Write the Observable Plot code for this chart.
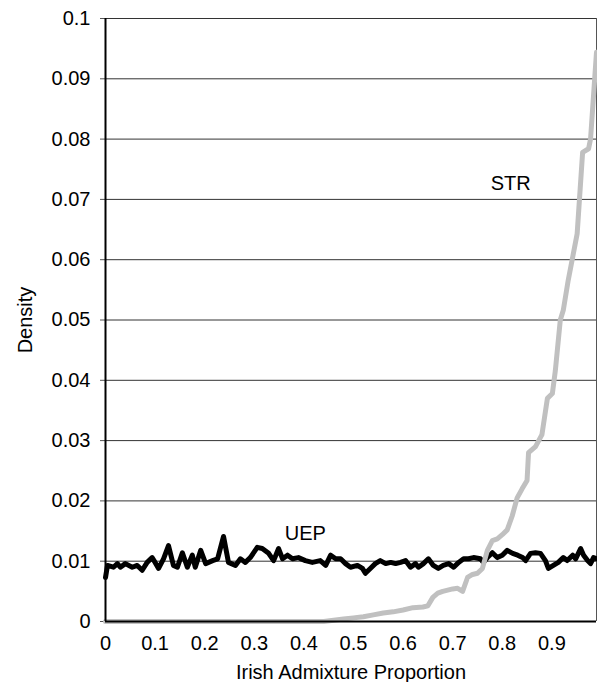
<!DOCTYPE html>
<html>
<head>
<meta charset="utf-8">
<script src="https://cdn.jsdelivr.net/npm/d3@7"></script>
<script src="https://cdn.jsdelivr.net/npm/@observablehq/plot@0.6"></script>
<style>
  html, body { margin: 0; padding: 0; background: #fff; }
  #chart svg { display: block; }
  #chart svg text { font-size: 20px; font-family: 'Liberation Sans', Arial, Helvetica, sans-serif; }
</style>
</head>
<body>
<div id="chart"></div>
<script>
// Tick labels
const xTicks = [0, 0.1, 0.2, 0.3, 0.4, 0.5, 0.6, 0.7, 0.8, 0.9];
const yTicks = [0, 0.01, 0.02, 0.03, 0.04, 0.05, 0.06, 0.07, 0.08, 0.09, 0.1];

// UEP series (black)
const uepX = [0.0,0.004,0.016,0.024,0.03,0.04,0.054,0.064,0.074,0.084,
  0.094,0.1,0.107,0.117,0.127,0.137,0.145,0.155,0.165,0.175,
  0.181,0.192,0.202,0.216,0.226,0.238,0.248,0.262,0.272,0.282,
  0.292,0.306,0.316,0.329,0.339,0.349,0.357,0.367,0.377,0.389,
  0.403,0.417,0.433,0.444,0.454,0.464,0.474,0.484,0.494,0.508,
  0.518,0.524,0.534,0.544,0.554,0.565,0.575,0.585,0.595,0.605,
  0.615,0.625,0.631,0.641,0.651,0.661,0.671,0.681,0.692,0.702,
  0.712,0.722,0.732,0.742,0.756,0.762,0.770,0.780,0.790,0.800,
  0.810,0.821,0.831,0.841,0.847,0.857,0.867,0.877,0.887,0.893,
  0.903,0.913,0.923,0.931,0.942,0.948,0.958,0.964,0.972,0.978,
  0.984,0.99];
const uepY = [0.0073,0.0093,0.009,0.0096,0.009,0.0096,0.009,0.0093,0.0085,0.0098,
  0.0106,0.0098,0.0088,0.0104,0.0126,0.0093,0.009,0.0114,0.009,0.011,
  0.009,0.0118,0.0096,0.0101,0.0104,0.0141,0.0098,0.0093,0.0104,0.0098,
  0.0106,0.0123,0.0121,0.0113,0.0101,0.0121,0.0104,0.011,0.0104,0.0106,
  0.0101,0.0098,0.0101,0.0093,0.011,0.0104,0.0104,0.0096,0.009,0.0093,
  0.0088,0.008,0.0088,0.0096,0.0101,0.0096,0.0098,0.0096,0.0098,0.0101,
  0.009,0.0096,0.009,0.0096,0.0104,0.0093,0.0088,0.0093,0.0096,0.009,
  0.0098,0.0104,0.0104,0.0106,0.0104,0.0098,0.0106,0.0114,0.0106,0.011,
  0.0118,0.0113,0.011,0.0106,0.0101,0.0113,0.0114,0.0113,0.0101,0.0088,
  0.0093,0.0098,0.0106,0.0101,0.011,0.0104,0.0121,0.011,0.0101,0.0096,
  0.0106,0.0104];

// STR series (grey)
const strX = [0,0.44,0.46,0.48,0.50,0.52,0.54,0.56,0.58,0.60,
  0.62,0.64,0.65,0.66,0.67,0.68,0.70,0.71,0.72,0.73,
  0.74,0.75,0.76,0.77,0.78,0.79,0.80,0.81,0.82,0.83,
  0.84,0.85,0.853,0.867,0.88,0.891,0.901,0.907,0.917,0.923,
  0.933,0.951,0.962,0.974,0.978,0.99];
const strY = [0,0,0.0002,0.0004,0.0006,0.0008,0.0011,0.0014,0.0016,0.0019,
  0.0023,0.0024,0.0026,0.004,0.0047,0.005,0.0054,0.0055,0.005,0.0073,
  0.0078,0.008,0.0088,0.0118,0.0134,0.0137,0.0144,0.0152,0.0175,0.0205,
  0.022,0.0234,0.028,0.029,0.031,0.037,0.0378,0.0416,0.050,0.0516,
  0.0566,0.0643,0.0778,0.0784,0.080,0.0944];

// Series labels
const seriesNames = ["UEP", "STR"];
const labelX = [0.403, 0.817];
const labelY = [0.0146, 0.0726];

const uep = uepX.map((x, i) => ({x, y: uepY[i]}));
const str = strX.map((x, i) => ({x, y: strY[i]}));
const labels = seriesNames.map((name, i) => ({name, x: labelX[i], y: labelY[i]}));

const font = "'Liberation Sans', Arial, Helvetica, sans-serif";

const chart = Plot.plot({
  width: 597,
  height: 682,
  marginLeft: 105,
  marginRight: 1,
  marginTop: 18,
  marginBottom: 61,
  style: {fontFamily: font, fontSize: "20px", color: "#000", background: "#fff", overflow: "visible"},
  x: {domain: [0, 0.99]},
  y: {domain: [0, 0.1]},
  marks: [
    Plot.ruleY(yTicks.slice(1), {stroke: "#333", strokeWidth: 1}),
    Plot.ruleX([0.99], {stroke: "#555", strokeWidth: 1}),
    Plot.axisY({ticks: yTicks, tickFormat: d => String(d), tickSize: 5, tickPadding: 10,
      stroke: "#555", fontSize: 20, label: "Density", labelAnchor: "center", labelArrow: "none", labelOffset: 88}),
    Plot.axisX({ticks: xTicks, tickFormat: d => String(d), tickSize: 0, tickPadding: 14,
      fontSize: 20, label: "Irish Admixture Proportion", labelAnchor: "center", labelArrow: "none", labelOffset: 57}),
    Plot.line(uep, {x: "x", y: "y", stroke: "#000", strokeWidth: 5}),
    Plot.line(str, {x: "x", y: "y", stroke: "#c0c0c0", strokeWidth: 5}),
    Plot.ruleX([0], {stroke: "#000", strokeWidth: 2}),
    Plot.ruleY([0], {stroke: "#000", strokeWidth: 2}),
    Plot.text(labels, {x: "x", y: "y", text: "name", fontSize: 20, fill: "#000"})
  ]
});
document.getElementById("chart").appendChild(chart);
</script>
</body>
</html>
